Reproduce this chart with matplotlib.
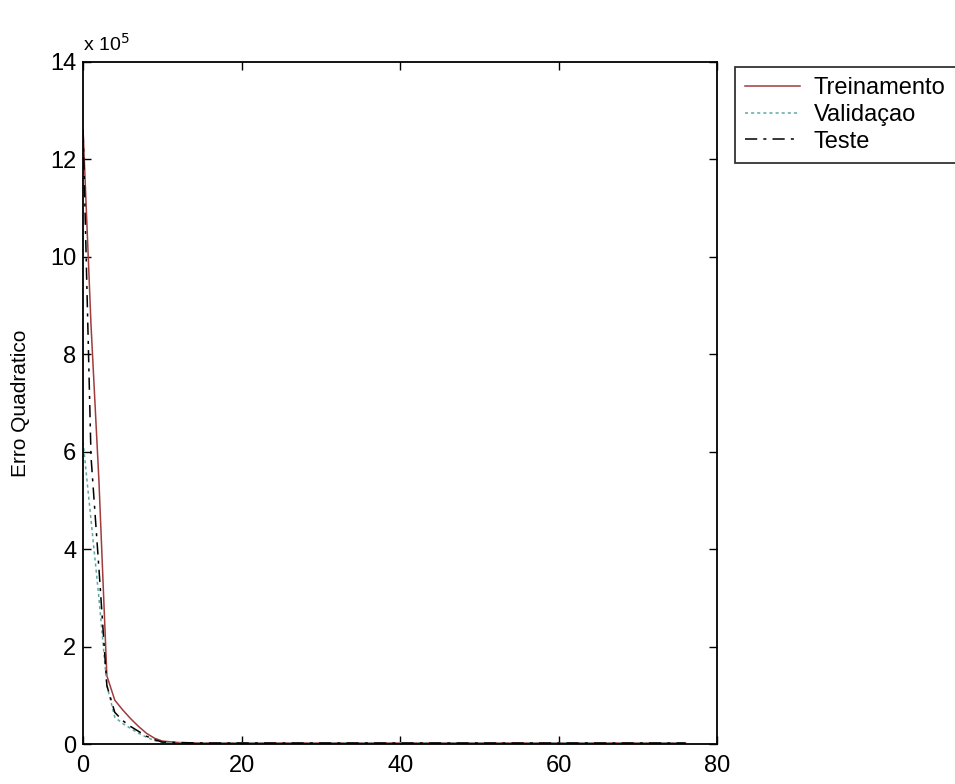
import matplotlib
matplotlib.use('Agg')
import matplotlib.pyplot as plt

# epochs (x axis), errors in units of 1e5
epochs = [0, 1, 2, 3, 4, 5, 6, 7, 8, 9, 10, 12, 15, 20, 30, 40, 50, 60, 70, 76]
treino = [12.6, 8.6, 5.4, 1.4, 0.9, 0.7, 0.52, 0.36, 0.22, 0.12, 0.06, 0.03, 0.02, 0.02, 0.02, 0.02, 0.02, 0.02, 0.02, 0.02]
valid = [6.2, 4.6, 3.0, 1.2, 0.55, 0.42, 0.32, 0.22, 0.14, 0.07, 0.03, 0.02, 0.02, 0.02, 0.02, 0.02, 0.02, 0.02, 0.02, 0.02]
teste = [12.6, 5.9, 3.6, 1.2, 0.65, 0.48, 0.36, 0.26, 0.16, 0.09, 0.04, 0.03, 0.02, 0.02, 0.02, 0.02, 0.02, 0.02, 0.02, 0.02]

plt.rcParams['font.family'] = ['Liberation Sans', 'DejaVu Sans']

fig = plt.figure(figsize=(9.55, 7.84), dpi=100)
ax = fig.add_axes([0.087, 0.051, 0.664, 0.870])

ax.plot(epochs, treino, color='#a03c3c', lw=1.1, label='Treinamento')
ax.plot(epochs, valid, color='#5fa8a0', lw=1.1, ls=(0, (2, 2)), label='Validaçao')
ax.plot(epochs, teste, color='black', lw=1.1, ls=(0, (8, 4, 2, 4)), label='Teste')

ax.set_xlim(0, 80)
ax.set_ylim(0, 14)
ax.set_xticks([0, 20, 40, 60, 80])
ax.set_yticks([0, 2, 4, 6, 8, 10, 12, 14])
ax.tick_params(direction='in', top=True, right=True, labelsize=17, length=6, width=1)
ax.tick_params(axis='x', pad=8)
ax.tick_params(axis='y', pad=5)
for s in ax.spines.values():
    s.set_linewidth(1.3)
ax.set_ylabel('Erro Quadratico', fontsize=15, labelpad=14)
ax.text(0.0, 1.01, 'x 10$^5$', transform=ax.transAxes, fontsize=14, ha='left', va='bottom')

leg = fig.legend(loc='upper left', bbox_to_anchor=(0.757, 0.93), fontsize=17,
                 frameon=True, fancybox=False, edgecolor='black', handlelength=2.3,
                 handletextpad=0.6, borderpad=0.45, labelspacing=0.2)
leg.get_frame().set_linewidth(1.3)

fig.savefig('out.png', dpi=100)
